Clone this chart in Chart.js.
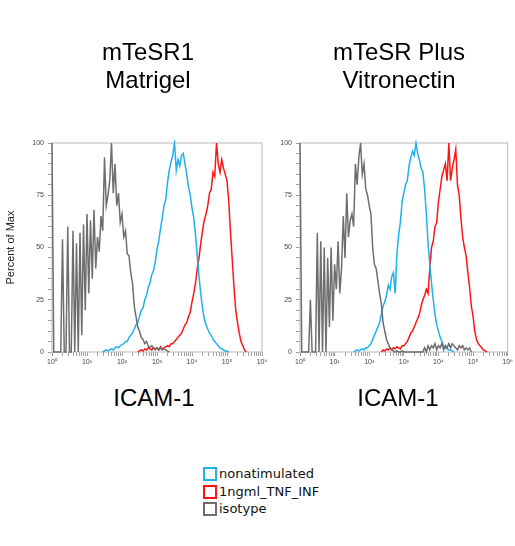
<!DOCTYPE html>
<html>
<head>
<meta charset="utf-8">
<script src="https://cdn.jsdelivr.net/npm/chart.js@4"></script>
<style>
  body { margin: 0; width: 515px; height: 546px; background: #fff; position: relative; overflow: hidden; font-family: "Liberation Sans", Arial, sans-serif; }
  canvas { position: absolute; top: 0; }
  .titulo { position: absolute; width: 220px; text-align: center; font-size: 24px; line-height: 28px; color: #000; }
  .leyenda { position: absolute; left: 203px; height: 14px; line-height: 14px; font-family: "DejaVu Sans", sans-serif; font-size: 13px; color: #111; white-space: nowrap; }
  .caja { display: inline-block; box-sizing: border-box; width: 14px; height: 14px; border: 2px solid; background: #fff; vertical-align: top; margin-right: 2px; }
</style>
</head>
<body>
<canvas id="panelIzq" width="275" height="380" style="left:0"></canvas>
<canvas id="panelDer" width="267" height="380" style="left:248px"></canvas>

<script>
// textos
const panelTitles = [["mTeSR1", "Matrigel"], ["mTeSR Plus", "Vitronectin"]];
const xTitle = "ICAM-1";
const yTitle = "Percent of Max";
const seriesNames = ["nonatimulated", "1ngml_TNF_INF", "isotype"];
const seriesColors = ["#1fb0ee", "#ff1414", "#6e6e6e"];
const yTicks = [0, 25, 50, 75, 100];

// histogramas: un valor cada 0.05 decadas, empezando en la decada indicada
const binStep = 0.05;

// panel izquierdo (mTeSR1 / Matrigel)
const izqNonStart = 1.45;
const izqNon = [0, 0.5, 1, 0.5, 1, 1.5, 1, 2, 2.5, 2, 3, 3.5, 4, 5, 5, 7, 8, 9, 11, 13,
  14, 17, 20, 21, 25, 27, 31, 33, 37, 39, 43, 49, 53, 59, 64, 70, 73, 81, 87, 91,
  94, 100, 87, 92, 89, 94, 95, 90, 85, 79, 75, 69, 64, 56, 46, 36, 28, 21, 16, 13,
  11, 9, 8, 6, 5, 4, 3, 2, 1.5, 1, 0.5, 0.5, 0];
const izqTnfStart = 2.45;
const izqTnf = [0, 0.5, 1, 0.5, 1.5, 1, 2, 1.5, 1, 2, 1.5, 2, 1, 2.5, 1.5, 2, 2.5, 3, 2.5, 4,
  4, 5, 6, 7, 8, 9, 11, 13, 14, 17, 19, 24, 28, 33, 40, 45, 52, 58, 63, 66,
  70, 76, 78, 86, 84, 100, 90, 86, 92, 88, 85, 82, 72, 57, 44, 31, 20, 14, 9, 5,
  3, 1, 0];
const izqIsoStart = 0;
const izqIso = [100, 0, 0, 0, 0, 0, 54, 0, 0, 60, 0, 0, 58, 0, 52, 0, 57, 8, 61, 20,
  66, 28, 63, 35, 68, 40, 55, 48, 65, 58, 93, 70, 75, 82, 100, 76, 90, 70, 76, 62,
  66, 55, 58, 47, 46, 38, 33, 22, 17, 12, 10, 7, 6, 4, 5, 3, 2, 3, 2, 1,
  2, 1, 2, 1, 1.5, 1, 0.5, 0];

// panel derecho (mTeSR Plus / Vitronectin)
const derNonStart = 1.55;
const derNon = [0, 0.5, 1, 0.5, 1, 1.5, 1, 2, 2, 3, 4, 6, 8, 10, 12, 14, 18, 22, 24, 27,
  32, 30, 36, 38, 28, 47, 56, 62, 72, 76, 80, 82, 89, 93, 96, 94, 100, 95, 92, 88,
  86, 78, 66, 52, 42, 33, 25, 18, 13, 10, 7, 5, 3, 2, 1.5, 1, 1, 0.5, 0];
const derTnfStart = 2.35;
const derTnf = [0, 1, 0.5, 1.5, 1, 2, 1, 2, 1.5, 2.5, 2, 1.5, 3, 3, 4, 5, 7, 9, 10, 12,
  14, 16, 18, 22, 25, 27, 30, 28, 40, 50, 53, 60, 62, 72, 78, 84, 87, 90, 82, 100,
  82, 88, 92, 97, 80, 75, 64, 55, 50, 46, 38, 31, 22, 17, 10, 6, 4, 3, 2, 1,
  0.5, 0];
const derIsoStart = 0;
const derIso = [100, 0, 0, 0, 0, 0, 25, 0, 0, 0, 57, 0, 53, 0, 50, 0, 45, 12, 50, 15,
  42, 30, 53, 28, 40, 65, 45, 76, 55, 63, 66, 60, 90, 80, 93, 100, 85, 90, 78, 75,
  70, 66, 50, 42, 40, 34, 28, 23, 14, 10, 6, 4, 2, 1, 0.5, 0, 0.5, 0, 0, 0.5,
  0, 0, 0, 0, 0, 0, 0, 0, 0, 0, 0, 0, 2, 0, 3, 1, 3, 2, 4, 1,
  3, 2, 4, 1, 3, 2, 4, 2, 4, 3, 2, 1, 3, 2, 3, 1, 2, 1, 2, 0];

const sup = ["⁰", "¹", "²", "³", "⁴", "⁵", "⁶"];

function puntos(valores, inicio) {
  return valores.map((v, i) => ({ x: Math.pow(10, inicio + i * binStep), y: v }));
}

// marco gris claro alrededor del area del grafico
const marco = {
  id: "marco",
  beforeDatasetsDraw(chart) {
    const { ctx, chartArea: a } = chart;
    ctx.save();
    ctx.strokeStyle = "#c4c4c4";
    ctx.lineWidth = 1.2;
    ctx.strokeRect(a.left, a.top, a.right - a.left, a.bottom - a.top);
    ctx.restore();
  },
};

function crearPanel(canvas, series, padDer, conTitulo) {
  const datasets = [2, 0, 1].map((k) => ({
    label: seriesNames[k],
    data: puntos(series[k][0], series[k][1]),
    borderColor: seriesColors[k],
    borderWidth: 1.5,
    pointRadius: 0,
    tension: 0,
    clip: 3,
  }));

  return new Chart(canvas, {
    type: "line",
    data: { datasets },
    options: {
      responsive: false,
      animation: false,
      layout: { padding: { top: 143, right: padDer, bottom: 0, left: 0 } },
      plugins: { legend: { display: false }, tooltip: { enabled: false } },
      scales: {
        x: {
          type: "logarithmic",
          min: 1,
          max: 1e6,
          border: { display: false },
          grid: { drawOnChartArea: false, tickLength: 4, tickColor: "#a0a0a0" },
          afterBuildTicks(scale) {
            const t = [];
            for (let e = 0; e < 6; e++) {
              for (let k = 1; k < 10; k++) t.push({ value: k * Math.pow(10, e) });
            }
            t.push({ value: 1e6 });
            scale.ticks = t;
          },
          afterFit(scale) { scale.height = 28; },
          ticks: {
            autoSkip: false,
            maxRotation: 0,
            padding: 2,
            color: "#444",
            font: { family: "Liberation Sans", size: 7 },
            callback(v) {
              const e = Math.round(Math.log10(v));
              return Math.abs(Math.pow(10, e) - v) < 1e-6 ? "10" + sup[e] : "";
            },
          },
        },
        y: {
          min: 0,
          max: 100,
          border: { display: false },
          grid: { drawOnChartArea: false, tickLength: 4, tickColor: "#a0a0a0" },
          afterFit(scale) { scale.width = 52; },
          title: {
            display: conTitulo,
            text: yTitle,
            color: "#222",
            font: { family: "Liberation Sans", size: 11 },
            padding: { top: 4, bottom: 0 },
          },
          ticks: {
            stepSize: 5,
            autoSkip: false,
            padding: 4,
            color: "#444",
            font: { family: "Liberation Sans", size: 7 },
            callback: (v) => (yTicks.includes(v) ? v : ""),
          },
        },
      },
    },
    plugins: [marco],
  });
}

crearPanel(document.getElementById("panelIzq"),
  [[izqNon, izqNonStart], [izqTnf, izqTnfStart], [izqIso, izqIsoStart]], 13, true);
crearPanel(document.getElementById("panelDer"),
  [[derNon, derNonStart], [derTnf, derTnfStart], [derIso, derIsoStart]], 7, false);

// titulos y leyenda en HTML
const centros = [148, 399];
panelTitles.forEach((lineas, i) => {
  const d = document.createElement("div");
  d.className = "titulo";
  d.style.left = centros[i] - 110 + "px";
  d.style.top = "38px";
  d.innerHTML = lineas.join("<br>");
  document.body.appendChild(d);

  const x = document.createElement("div");
  x.className = "titulo";
  x.style.left = [154, 398][i] - 110 + "px";
  x.style.top = "384px";
  x.textContent = xTitle;
  document.body.appendChild(x);
});

seriesNames.forEach((nombre, i) => {
  const fila = document.createElement("div");
  fila.className = "leyenda";
  fila.style.top = 467 + i * 17.5 + "px";
  fila.innerHTML = `<span class="caja" style="border-color:${seriesColors[i]}"></span>${nombre}`;
  document.body.appendChild(fila);
});
</script>
</body>
</html>
